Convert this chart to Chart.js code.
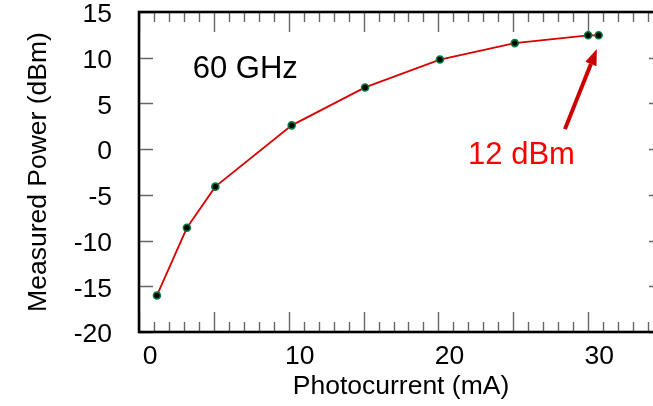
<!DOCTYPE html>
<html>
<head>
<meta charset="utf-8">
<script src="https://cdn.jsdelivr.net/npm/chart.js@4"></script>
<style>
  html, body { margin: 0; padding: 0; background: #fff; overflow: hidden; }
  #marco { width: 653px; height: 406px; overflow: hidden; }
  #lienzo { position: relative; width: 680px; height: 406px; }
</style>
</head>
<body>
<div id="marco"><div id="lienzo"><canvas id="potencia"></canvas></div></div>
<script>
// Datos
const corriente = [1.2, 3.2, 5.1, 10.2, 15.1, 20.1, 25.1, 30.0, 30.7];
const potencia = [-16.0, -8.6, -4.1, 2.6, 6.75, 9.8, 11.6, 12.45, 12.45];

// Etiquetas de los ejes
const ticksX = [0, 10, 20, 30];
const ticksY = [-20, -15, -10, -5, 0, 5, 10, 15];

const fuente = "'Liberation Sans', Arial, sans-serif";

// Dibuja el marco y las marcas hacia dentro
const marcoYMarcas = {
  id: 'marcoYMarcas',
  beforeDatasetsDraw(chart) {
    const { ctx, chartArea: a, scales: { x, y } } = chart;
    ctx.save();
    ctx.strokeStyle = '#666';
    ctx.lineWidth = 1.4;
    ctx.beginPath();
    for (let v = x.min; v <= x.max; v++) {
      const px = Math.round(x.getPixelForValue(v)) + 0.5;
      const largo = v % 5 === 0 ? 20 : 10;
      ctx.moveTo(px, a.bottom); ctx.lineTo(px, a.bottom - largo);
      ctx.moveTo(px, a.top); ctx.lineTo(px, a.top + largo);
    }
    ticksY.forEach(v => {
      const py = Math.round(y.getPixelForValue(v)) + 0.5;
      ctx.moveTo(a.left, py); ctx.lineTo(a.left + 14, py);
      ctx.moveTo(a.right, py); ctx.lineTo(a.right - 14, py);
    });
    ctx.stroke();
    ctx.strokeStyle = '#000';
    ctx.lineWidth = 2.6;
    ctx.strokeRect(a.left, a.top, a.right - a.left, a.bottom - a.top);
    ctx.restore();
  },
  afterDatasetsDraw(chart) {
    const { ctx, scales: { x, y } } = chart;
    ctx.save();
    ctx.textAlign = 'center';
    ctx.textBaseline = 'middle';
    ctx.font = '31px ' + fuente;
    ctx.fillStyle = '#000';
    ctx.fillText('60 GHz', x.getPixelForValue(7.1), y.getPixelForValue(8.75));
    ctx.fillStyle = '#ff0000';
    ctx.fillText('12 dBm', x.getPixelForValue(25.55), y.getPixelForValue(-0.66));

    // Flecha roja hacia el punto de 12 dBm
    const x0 = x.getPixelForValue(28.45), y0 = y.getPixelForValue(2.19);
    const x1 = x.getPixelForValue(30.58), y1 = y.getPixelForValue(10.94);
    const ang = Math.atan2(y1 - y0, x1 - x0);
    const largo = 16, ancho = 6;
    const bx = x1 - largo * Math.cos(ang), by = y1 - largo * Math.sin(ang);
    ctx.strokeStyle = '#cc0000';
    ctx.fillStyle = '#cc0000';
    ctx.lineWidth = 4;
    ctx.beginPath();
    ctx.moveTo(x0, y0); ctx.lineTo(bx, by);
    ctx.stroke();
    ctx.beginPath();
    ctx.moveTo(x1, y1);
    ctx.lineTo(bx + ancho * Math.sin(ang), by - ancho * Math.cos(ang));
    ctx.lineTo(bx - ancho * Math.sin(ang), by + ancho * Math.cos(ang));
    ctx.closePath();
    ctx.fill();
    ctx.restore();
  }
};

new Chart(document.getElementById('potencia'), {
  type: 'line',
  data: {
    datasets: [{
      data: corriente.map((c, i) => ({ x: c, y: potencia[i] })),
      borderColor: '#d80000',
      borderWidth: 1.8,
      tension: 0,
      pointRadius: 3.5,
      pointBackgroundColor: '#000',
      pointBorderColor: '#0b7a3e',
      pointBorderWidth: 1.6
    }]
  },
  options: {
    responsive: true,
    maintainAspectRatio: false,
    animation: false,
    layout: { padding: { top: 12, right: 17, left: 0, bottom: 0 } },
    plugins: { legend: { display: false }, tooltip: { enabled: false } },
    scales: {
      x: {
        type: 'linear',
        min: 0,
        max: 35,
        grid: { display: false, drawTicks: false },
        border: { display: false },
        afterBuildTicks: s => { s.ticks = ticksX.map(v => ({ value: v })); },
        afterFit: s => { s.height = 74; s.paddingLeft = 0; s.paddingRight = 0; },
        ticks: {
          padding: 9,
          labelOffset: 11,
          color: '#000',
          font: { family: fuente, size: 26.5 }
        },
        title: {
          display: true,
          text: 'Photocurrent (mA)',
          color: '#000',
          padding: 3,
          font: { family: fuente, size: 26.5 }
        }
      },
      y: {
        min: -20,
        max: 15,
        grid: { display: false, drawTicks: false },
        border: { display: false },
        afterBuildTicks: s => { s.ticks = ticksY.map(v => ({ value: v })); },
        afterFit: s => { s.width = 139; s.paddingTop = 0; s.paddingBottom = 0; },
        ticks: {
          padding: 27,
          labelOffset: 3,
          color: '#000',
          font: { family: fuente, size: 26.5 }
        },
        title: {
          display: true,
          text: 'Measured Power (dBm)',
          color: '#000',
          padding: 23,
          font: { family: fuente, size: 26.5 }
        }
      }
    }
  },
  plugins: [marcoYMarcas]
});
</script>
</body>
</html>
